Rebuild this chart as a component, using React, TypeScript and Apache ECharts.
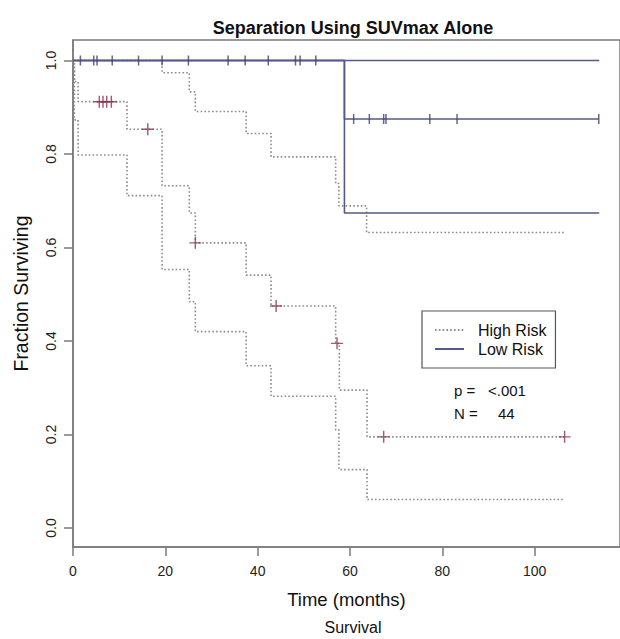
import React, { useEffect, useRef } from 'react';
import * as echarts from 'echarts';

// ---- Axis ticks ----
const xTicks = [0, 20, 40, 60, 80, 100];
const yTicks = [0, 0.2, 0.4, 0.6, 0.8, 1.0];

// ---- High Risk group: Kaplan-Meier estimate and 95% CI (step points) ----
const highTime = [0, 0.3, 1.1, 11.7, 19.3, 25.2, 26.5, 37.5, 42.9, 56.9, 57.7, 63.7, 106.5];
const highSurv = [1.0, 0.955, 0.912, 0.853, 0.732, 0.674, 0.61, 0.541, 0.475, 0.395, 0.295, 0.195, 0.195];
const highUpperTime = [0, 19.3, 25.2, 26.5, 37.5, 42.9, 56.9, 57.6, 63.6, 106.6];
const highUpper = [1.0, 0.974, 0.933, 0.891, 0.844, 0.794, 0.737, 0.689, 0.632, 0.632];
const highLowerTime = [0, 0.3, 1.1, 11.7, 19.3, 25.2, 26.5, 37.5, 42.9, 56.9, 57.6, 63.7, 106.5];
const highLower = [1.0, 0.873, 0.798, 0.711, 0.553, 0.484, 0.42, 0.347, 0.282, 0.21, 0.125, 0.061, 0.061];
const highCensorTime = [5.7, 6.5, 7.3, 8.3, 16.2, 26.5, 44.0, 57.2, 67.3, 106.5];
const highCensorSurv = [0.912, 0.912, 0.912, 0.912, 0.853, 0.61, 0.475, 0.395, 0.195, 0.195];

// ---- Low Risk group ----
const lowTime = [0, 58.8, 113.9];
const lowSurv = [1.0, 0.875, 0.875];
const lowUpperTime = [0, 114];
const lowUpper = [1.0, 1.0];
const lowLowerTime = [0, 58.8, 114];
const lowLower = [1.0, 0.674, 0.674];
const lowCensorTime = [1.6, 4.5, 5.2, 8.5, 14.2, 19.3, 25.0, 33.6, 37.3, 42.3, 48.2, 49.2, 52.6,
  60.8, 64.2, 67.3, 67.8, 77.3, 83.2, 113.9];
const lowCensorSurv = [1, 1, 1, 1, 1, 1, 1, 1, 1, 1, 1, 1, 1,
  0.875, 0.875, 0.875, 0.875, 0.875, 0.875, 0.875];

const pValueText = '<.001';
const nText = '44';

const FONT = '"Liberation Sans", Arial, Helvetica, sans-serif';
const AXIS_COLOR = '#7a7a7a';
const HIGH_COLOR = '#8c8c8c';
const HIGH_MARK = '#8a3352';
const LOW_COLOR = '#55598a';
const LOW_MARK = '#3d4170';
const CROSS = 'path://M4.4,0H5.6V10H4.4Z M0,4.4H10V5.6H0Z';

const pairs = (t: number[], v: number[]) => t.map((x, i) => [x, v[i]]);

const dotted = { color: HIGH_COLOR, width: 1.6, type: [1.6, 2.2] as any };
const solid = { color: LOW_COLOR, width: 1.6, type: 'solid' as any };

export default function App() {
  const ref = useRef<HTMLDivElement>(null);
  useEffect(() => {
    if (!ref.current) return;
    const chart = echarts.init(ref.current, null, { renderer: 'svg' });
    const option: any = {
      animation: false,
      backgroundColor: '#ffffff',
      textStyle: { fontFamily: FONT },
      title: [
        {
          text: 'Separation Using SUVmax Alone',
          left: 353,
          top: 19,
          padding: 0,
          textAlign: 'center',
          textStyle: { fontSize: 18, fontWeight: 'bold', color: '#111', fontFamily: FONT },
        },
        {
          text: 'Survival',
          left: 353,
          top: 619,
          padding: 0,
          textAlign: 'center',
          textStyle: { fontSize: 16, fontWeight: 'normal', color: '#111', fontFamily: FONT },
        },
      ],
      grid: {
        left: 73,
        top: 40,
        right: -13,
        bottom: 92,
        show: true,
        borderColor: AXIS_COLOR,
        borderWidth: 1.5,
        backgroundColor: 'transparent',
      },
      legend: {
        orient: 'vertical',
        left: 422,
        top: 311,
        padding: [11, 9, 11, 12],
        itemGap: 3,
        itemWidth: 29,
        itemHeight: 14,
        borderColor: '#555',
        borderWidth: 1.2,
        data: ['High Risk', 'Low Risk'],
        itemStyle: { color: 'rgba(0,0,0,0)', borderColor: 'rgba(0,0,0,0)', borderWidth: 0, opacity: 0 },
        textStyle: { fontSize: 16, color: '#111', fontFamily: FONT, padding: [0, 0, 0, 9] },
      },
      xAxis: {
        type: 'value',
        min: 0,
        max: 118.5,
        name: 'Time (months)',
        nameLocation: 'middle',
        nameGap: 43,
        nameTextStyle: { fontSize: 18.5, color: '#111', fontFamily: FONT },
        axisLine: { show: true, onZero: false, lineStyle: { color: AXIS_COLOR, width: 1.5 } },
        axisTick: { show: true, length: 9, customValues: xTicks, lineStyle: { color: AXIS_COLOR, width: 1.5 } },
        axisLabel: { customValues: xTicks, fontSize: 14, margin: 17, color: '#222', fontFamily: FONT },
        splitLine: { show: false },
      },
      yAxis: {
        type: 'value',
        min: -0.0406,
        max: 1.0439,
        name: 'Fraction Surviving',
        nameLocation: 'middle',
        nameGap: 42,
        nameTextStyle: { fontSize: 19.5, color: '#111', fontFamily: FONT },
        axisLine: { show: true, onZero: false, lineStyle: { color: AXIS_COLOR, width: 1.5 } },
        axisTick: { show: true, length: 9, customValues: yTicks, lineStyle: { color: AXIS_COLOR, width: 1.5 } },
        axisLabel: {
          customValues: yTicks,
          formatter: (v: number) => v.toFixed(1),
          rotate: 90,
          fontSize: 14,
          margin: 15,
          color: '#222',
          fontFamily: FONT,
        },
        splitLine: { show: false },
      },
      graphic: [
        { type: 'text', x: 454, y: 390, style: { text: 'p =', fontSize: 15, fill: '#111', fontFamily: FONT, verticalAlign: 'middle' } },
        { type: 'text', x: 488, y: 390, style: { text: pValueText, fontSize: 15, fill: '#111', fontFamily: FONT, verticalAlign: 'middle' } },
        { type: 'text', x: 454, y: 413, style: { text: 'N =', fontSize: 15, fill: '#111', fontFamily: FONT, verticalAlign: 'middle' } },
        { type: 'text', x: 498, y: 413, style: { text: nText, fontSize: 15, fill: '#111', fontFamily: FONT, verticalAlign: 'middle' } },
      ],
      series: [
        {
          name: 'High Risk upper CI', type: 'line', step: 'end', symbol: 'none', silent: true,
          data: pairs(highUpperTime, highUpper), lineStyle: dotted, itemStyle: { color: HIGH_COLOR }, z: 2,
        },
        {
          name: 'High Risk lower CI', type: 'line', step: 'end', symbol: 'none', silent: true,
          data: pairs(highLowerTime, highLower), lineStyle: dotted, itemStyle: { color: HIGH_COLOR }, z: 2,
        },
        {
          name: 'High Risk', type: 'line', step: 'end', symbol: 'none',
          data: pairs(highTime, highSurv), lineStyle: dotted, itemStyle: { color: HIGH_COLOR }, z: 2,
        },
        {
          name: 'High Risk censored', type: 'scatter', symbol: CROSS, symbolSize: 12,
          data: pairs(highCensorTime, highCensorSurv), itemStyle: { color: HIGH_MARK }, z: 4,
        },
        {
          name: 'Low Risk lower CI', type: 'line', step: 'end', symbol: 'none', silent: true,
          data: pairs(lowLowerTime, lowLower), lineStyle: solid, itemStyle: { color: LOW_COLOR }, z: 3,
        },
        {
          name: 'Low Risk upper CI', type: 'line', step: 'end', symbol: 'none', silent: true,
          data: pairs(lowUpperTime, lowUpper), lineStyle: solid, itemStyle: { color: LOW_COLOR }, z: 3,
        },
        {
          name: 'Low Risk', type: 'line', step: 'end', symbol: 'none',
          data: pairs(lowTime, lowSurv), lineStyle: solid, itemStyle: { color: LOW_COLOR }, z: 3,
        },
        {
          name: 'Low Risk censored', type: 'scatter', symbol: 'rect', symbolSize: [1.5, 10],
          data: pairs(lowCensorTime, lowCensorSurv), itemStyle: { color: LOW_MARK }, z: 4,
        },
      ],
    };
    chart.setOption(option);
    return () => chart.dispose();
  }, []);
  return (
    <div
      ref={ref}
      style={{ position: 'absolute', left: 0, top: 0, width: 620, height: 639, background: '#fff' }}
    />
  );
}
